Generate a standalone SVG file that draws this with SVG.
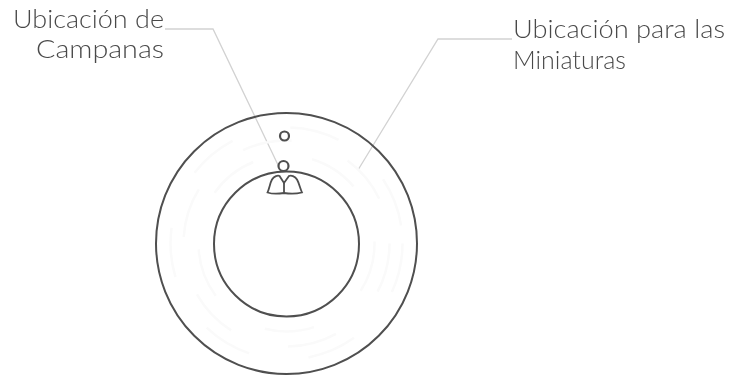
<svg xmlns="http://www.w3.org/2000/svg" width="730" height="377" viewBox="0 0 730 377">
<defs><filter id="soft" x="-5%" y="-5%" width="110%" height="110%"><feGaussianBlur stdDeviation="0.45"/></filter></defs>
<style>
g{filter:url(#soft)}
.ring{fill:none;stroke:#4f4f4f;stroke-width:2}
.small{fill:#fff;stroke:#4f4f4f;stroke-width:2.200}
.bell{fill:none;stroke:#4f4f4f;stroke-width:1.800}
.ghost{fill:none;stroke:#fafafa;stroke-width:2.500;stroke-dasharray:50 60}
.leader{fill:none;stroke:#d2d2d2;stroke-width:1.300}
.t{font-family:"Lato","Liberation Sans",sans-serif;font-weight:300;font-size:25px;fill:#4a4a4a}
</style>
<rect width="730" height="377" fill="#fff"/>
<g id="connectors">
<path class="leader" d="M165 29H213L279 167"/>
<path class="leader" d="M512 39H438L358 170"/>
</g>
<g id="outer-circle"><circle class="ring" cx="286.500" cy="243.500" r="130.500"/></g>
<g id="miniature-rings">
<circle class="ghost" cx="286.500" cy="243.500" r="88"/>
<circle class="ghost" cx="286.500" cy="243.500" r="103"/>
<circle class="ghost" cx="286.500" cy="243.500" r="116"/>
</g>
<g id="inner-circle"><circle class="ring" cx="286.500" cy="244" r="72.500"/></g>
<g id="bells">
<path class="bell" d="M267.500 192.500C269.500 188 270 183 272 179.500C274 176 278 175 279.500 176L284 183L289 176C291 175 295 176 297 179.500C299 183 300 188 302 192.500C296 194 290 194 284 193C278 194 272 194 267.500 192.500Z"/>
<path class="bell" d="M284 183V193"/>
</g>
<g id="small-circles">
<circle class="small" cx="284.500" cy="136" r="4.500"/>
<circle class="small" cx="283.500" cy="166" r="5"/>
</g>
<g id="label-campanas">
<text class="t" x="13" y="28" textLength="151" lengthAdjust="spacingAndGlyphs">Ubicación de</text>
<text class="t" x="36" y="58" textLength="128" lengthAdjust="spacingAndGlyphs">Campanas</text>
</g>
<g id="label-miniaturas">
<text class="t" x="513" y="38" textLength="212" lengthAdjust="spacingAndGlyphs">Ubicación para las</text>
<text class="t" x="513" y="69" textLength="113" lengthAdjust="spacingAndGlyphs">Miniaturas</text>
</g>
</svg>
